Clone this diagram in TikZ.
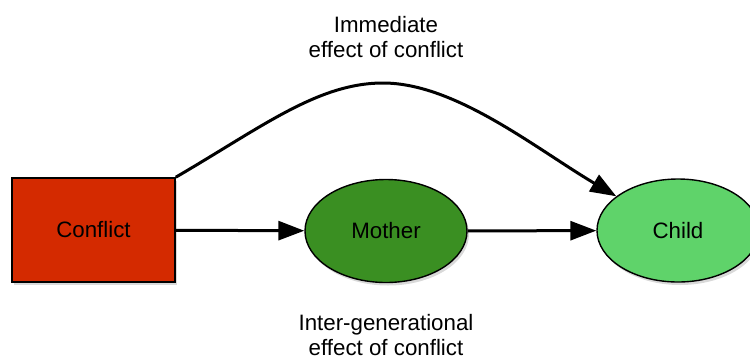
\documentclass[tikz,border=0pt]{standalone}
\usepackage{fontspec}
\setmainfont{Liberation Sans}
\usetikzlibrary{arrows.meta,shadows,shapes.geometric}
\definecolor{conflictred}{RGB}{212,42,0}
\definecolor{motherg}{RGB}{58,143,34}
\definecolor{childg}{RGB}{95,211,106}
\begin{document}
\begin{tikzpicture}[x=1pt,y=-1pt,
  every node/.style={font=\fontsize{22.3}{25}\selectfont, inner sep=0pt},
  boxshadow/.style={drop shadow={opacity=0.3,shadow xshift=2pt,shadow yshift=-3pt}},
  redbox/.style={rectangle, draw=black, line width=1.6pt, fill=conflictred, minimum width=163pt, minimum height=104pt, boxshadow},
  oval/.style={ellipse, draw=black, line width=1.4pt, minimum width=162pt, minimum height=103pt, boxshadow},
  link/.style={line width=3pt, -{Triangle[length=26pt,width=19pt]}},
  caption/.style={align=center}
]
\useasboundingbox (0,0) rectangle (750,360);
\node[redbox] (conflict) at (93.5,230) {Conflict};
\node[oval, fill=motherg] (mother) at (386,231) {Mother};
\node[oval, fill=childg] (child) at (678,230.5) {Child};
\draw[link] (conflict) -- (mother);
\draw[link] (mother) -- (child);
\draw[link] (conflict.north east) .. controls (262,127) and (318,83) .. (383,83)
  .. controls (455,83) and (535,148) .. (child.151);
\node[caption] (imm) at (386,37.5) {Immediate\\effect of conflict};
\node[caption] (inter) at (386,335) {Inter-generational\\effect of conflict};
\end{tikzpicture}
\end{document}
